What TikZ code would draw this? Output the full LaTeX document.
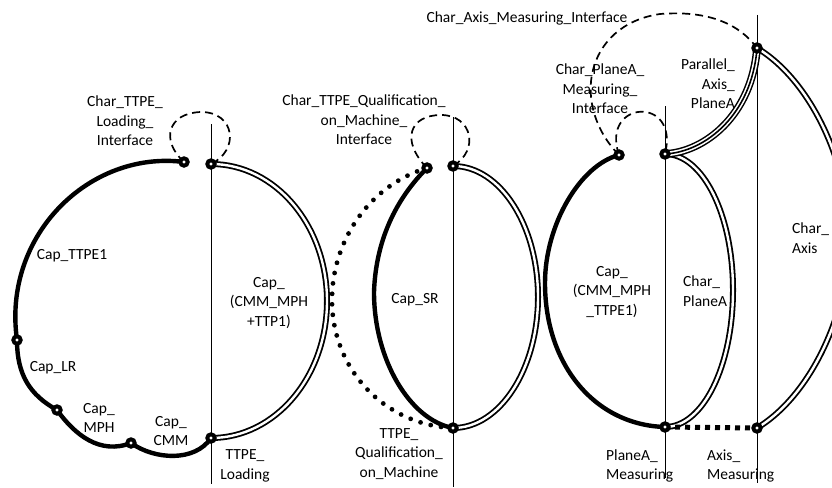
\documentclass[tikz,border=0pt]{standalone}
\usepackage{fontspec}
\setmainfont{Carlito}
\pgfdeclarelayer{edges}
\pgfsetlayers{edges,main}
\begin{document}
\begin{tikzpicture}[x=1pt,y=-1pt,
  dot/.style={circle, draw, fill=white, line width=3.9pt, minimum size=7.4pt, inner sep=0pt},
  lbl/.style={font=\fontsize{15.5}{19.5}\selectfont, inner sep=0pt, align=center},
  heavy/.style={line width=4.4pt, line cap=round},
  dbl/.style={double, double distance=2.4pt, line width=1.8pt},
  iface/.style={line width=1.7pt, dash pattern=on 8pt off 5pt},
  dotted round/.style={line width=4.8pt, line cap=round, dash pattern=on 0pt off 10.5pt},
  dotted square/.style={line width=5pt, dash pattern=on 5pt off 5pt},
  axisline/.style={line width=0.9pt}]
\useasboundingbox (0,0) rectangle (832,487);
\clip (0,0) rectangle (832,487);

% connection points
\node[dot] (A) at (184,162) {};
\node[dot] (B) at (211,164) {};
\node[dot] (C) at (17,340) {};
\node[dot] (D) at (57,410) {};
\node[dot] (E) at (131,443) {};
\node[dot] (F) at (211,438) {};
\node[dot] (G) at (427,168) {};
\node[dot] (H) at (453,166) {};
\node[dot] (I) at (453,428) {};
\node[dot] (J) at (619,155) {};
\node[dot] (K) at (665,154) {};
\node[dot] (L) at (757,48) {};
\node[dot] (M) at (665,427) {};
\node[dot] (N) at (757,428) {};

% ends of the vertical axes
\coordinate (v1t) at (211,124); \coordinate (v1b) at (211,484);
\coordinate (v2t) at (453,117); \coordinate (v2b) at (453,487);
\coordinate (v3t) at (665,106); \coordinate (v3b) at (665,478);
\coordinate (v4t) at (757,15);  \coordinate (v4b) at (757,483);

% labels
\node[lbl] (t1) at (125,121) {Char\_TTPE\_\\Loading\_\\Interface};
\node[lbl] (t2) at (72,256) {Cap\_TTPE1};
\node[lbl] (t3) at (53,368) {Cap\_LR};
\node[lbl] (t4) at (99,418) {Cap\_\\MPH};
\node[lbl] (t5) at (171,431) {Cap\_\\CMM};
\node[lbl] (t6) at (245,466) {TTPE\_\\Loading};
\node[lbl] (t7) at (269,303) {Cap\_\\(CMM\_MPH\\+TTP1)};
\node[lbl] (t8) at (364,120) {Char\_TTPE\_Qualification\_\\on\_Machine\_\\Interface};
\node[lbl] (t9) at (415,300) {Cap\_SR};
\node[lbl] (t10) at (399,454) {TTPE\_\\Qualification\_\\on\_Machine};
\node[lbl] (t11) at (527,18) {Char\_Axis\_Measuring\_Interface};
\node[lbl] (t12) at (600,89) {Char\_PlaneA\_\\Measuring\_\\Interface};
\node[lbl, align=right, anchor=east] (t13) at (735,84) {Parallel\_\\Axis\_\\PlaneA};
\node[lbl, align=left, anchor=west] (t14) at (792,238) {Char\_\\Axis};
\node[lbl] (t15) at (612,292) {Cap\_\\(CMM\_MPH\\\_TTPE1)};
\node[lbl, align=left, anchor=west] (t16) at (683,291) {Char\_\\PlaneA};
\node[lbl, align=left, anchor=west] (t17) at (606,466) {PlaneA\_\\Measuring};
\node[lbl, align=left, anchor=west] (t18) at (707,466) {Axis\_\\Measuring};

\begin{pgfonlayer}{edges}
  % vertical axes
  \foreach \t/\b in {v1t/v1b, v2t/v2b, v3t/v3b, v4t/v4b}
    \draw[axisline] (\t) -- (\b);

  % left chain of capabilities
  \draw[heavy] (A.center) .. controls (90,150) and (2,235) .. (C.center);
  \draw[heavy] (C.center) .. controls (17,375) and (30,395) .. (D.center);
  \draw[heavy] (D.center) .. controls (75,435) and (100,455) .. (E.center);
  \draw[heavy] (E.center) .. controls (155,460) and (195,462) .. (F.center);
  \draw[dbl] (B.center) .. controls (275,164) and (327,225) .. (327,301)
                        .. controls (327,377) and (275,438) .. (F.center);
  \draw[iface] (A.center) .. controls (160,140) and (168,113) .. (201,112)
                          .. controls (235,112) and (240,150) .. (B.center);

  % qualification on machine
  \draw[heavy] (G.center) .. controls (400,195) and (376,235) .. (374,292)
                          .. controls (374,360) and (410,420) .. (I.center);
  \draw[dotted round] (G.center) .. controls (370,185) and (332,240) .. (332,300)
                                 .. controls (332,370) and (385,425) .. (I.center);
  \draw[dbl] (H.center) .. controls (500,166) and (538,225) .. (538,297)
                        .. controls (538,369) and (500,428) .. (I.center);
  \draw[iface] (G.center) .. controls (400,140) and (410,115) .. (441,115)
                          .. controls (472,115) and (480,150) .. (H.center);

  % plane and axis measuring
  \draw[heavy] (J.center) .. controls (580,165) and (545,225) .. (545,283)
                          .. controls (545,365) and (595,425) .. (M.center);
  \draw[dbl] (K.center) .. controls (703,154) and (733,215) .. (733,290)
                        .. controls (733,366) and (703,427) .. (M.center);
  \draw[dbl] (L.center) .. controls (810,80) and (848,160) .. (850,238)
                        .. controls (848,316) and (810,396) .. (N.center);
  \foreach \w/\c in {7.8/black, 4.8/white, 1.6/black}
    \draw[line width=\w pt, \c] (K.center) .. controls (705,152) and (752,115) .. (L.center);
  \draw[dotted square] (M.center) -- (N.center);
  \draw[iface] (J.center) .. controls (600,100) and (680,95) .. (K.center);
  \draw[iface] (J.center) .. controls (570,105) and (585,25) .. (660,14)
                          .. controls (710,10) and (740,25) .. (L.center);
\end{pgfonlayer}
\end{tikzpicture}
\end{document}
